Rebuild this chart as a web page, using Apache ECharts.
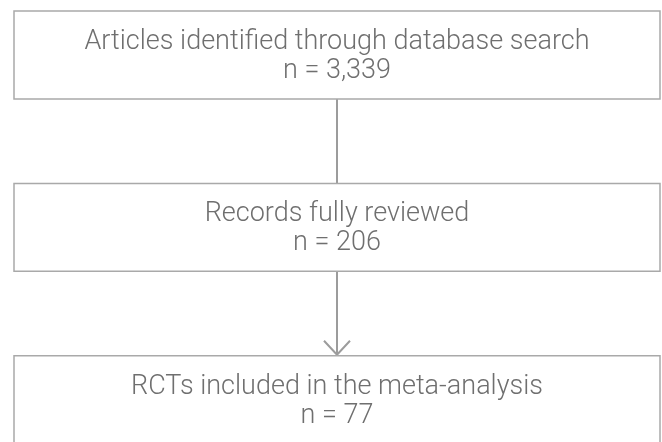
<!DOCTYPE html>
<html>
<head>
    <meta charset="UTF-8">
    <title>Flow</title>
    <script type="text/javascript" src="https://cdn.jsdelivr.net/npm/echarts@6/dist/echarts.min.js"></script>
    <style>
        html, body { margin: 0; padding: 0; background: #fff; }
    </style>
</head>
<body>
    <div id="main" style="width:662px;height:442px;"></div>
    <script type="text/javascript">
        // stages of the flow, top to bottom
        var stageNames = [
            'Articles identified through database search',
            'Records fully reviewed',
            'RCTs included in the meta-analysis'
        ];
        var stageCounts = [3339, 206, 77];
        // connectors: [from stage, to stage, arrow head?]
        var links = [[0, 1, 0], [1, 2, 1]];

        var BOX_H = 0.51;          // box height in stage units
        var TEXT_COLOR = '#6f6f6f';
        var FONT = 'Roboto, "Liberation Sans", sans-serif';

        var myChart = echarts.init(document.getElementById('main'));

        var boxData = stageNames.map(function (name, i) { return [i]; });

        myChart.setOption({
            animation: false,
            grid: { left: 14, right: 2, top: 11, bottom: -4 },
            xAxis: { type: 'value', min: 0, max: 1, show: false },
            yAxis: { type: 'value', min: 0, max: 2.5, inverse: true, show: false },
            series: [
                {
                    // connector lines
                    type: 'custom',
                    silent: true,
                    data: links,
                    renderItem: function (params, api) {
                        var from = api.value(0), to = api.value(1), arrow = api.value(2);
                        var a = api.coord([0.5, from + BOX_H]);
                        var b = api.coord([0.5, to]);
                        var style = { stroke: '#9c9c9c', lineWidth: 2, fill: null };
                        var children = [{
                            type: 'line',
                            shape: { x1: a[0], y1: a[1], x2: b[0], y2: b[1] },
                            style: style
                        }];
                        if (arrow) {
                            children.push({
                                type: 'polyline',
                                shape: { points: [[b[0] - 13, b[1] - 15], [b[0], b[1] - 1], [b[0] + 13, b[1] - 15]] },
                                style: style
                            });
                        }
                        return { type: 'group', children: children };
                    }
                },
                {
                    // boxes with text
                    type: 'custom',
                    silent: true,
                    data: boxData,
                    renderItem: function (params, api) {
                        var i = api.value(0);
                        var p0 = api.coord([0, i]);
                        var p1 = api.coord([1, i + BOX_H]);
                        var cx = (p0[0] + p1[0]) / 2;
                        var txt = function (s, y) {
                            return {
                                type: 'text',
                                style: {
                                    text: s, x: cx, y: y,
                                    align: 'center', verticalAlign: 'middle',
                                    fill: TEXT_COLOR,
                                    font: '300 27px ' + FONT
                                }
                            };
                        };
                        return {
                            type: 'group',
                            children: [
                                {
                                    type: 'rect',
                                    shape: { x: p0[0], y: p0[1], width: p1[0] - p0[0], height: p1[1] - p0[1] },
                                    style: { fill: '#fff', stroke: '#a9a9a9', lineWidth: 1.5 }
                                },
                                txt(stageNames[i], p0[1] + 31),
                                txt('n = ' + stageCounts[i].toLocaleString('en-US'), p0[1] + 60)
                            ]
                        };
                    }
                }
            ]
        });
    </script>
</body>
</html>
